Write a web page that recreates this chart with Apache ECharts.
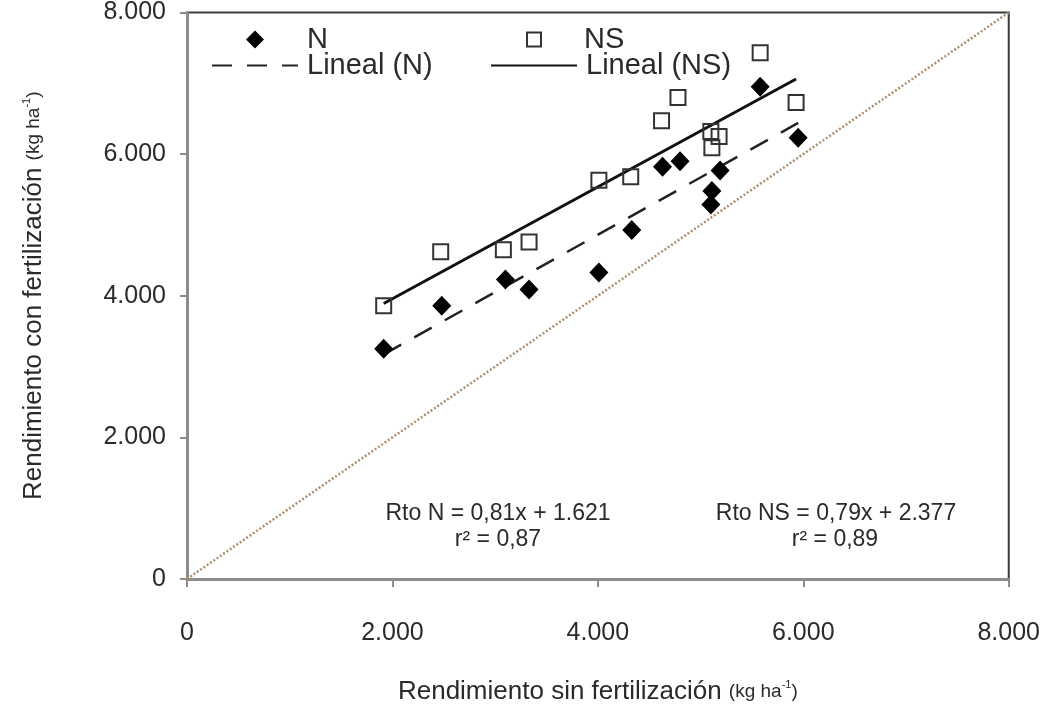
<!DOCTYPE html>
<html>
<head>
<meta charset="utf-8">
<script src="https://cdn.jsdelivr.net/npm/echarts@6/dist/echarts.min.js"></script>
<style>
html,body{margin:0;padding:0;background:#fff;}
#chart{width:1043px;height:711px;}
</style>
</head>
<body>
<div id="chart"></div>
<script>
// ---- data (kg/ha) ----
const nameN = 'N';
const nameNS = 'NS';
const nameFitN = 'Lineal (N)';
const nameFitNS = 'Lineal (NS)';
// without fertilization (x), with N fertilization (y)
const xN = [1915, 2480, 3100, 3330, 4010, 4330, 4630, 4800, 5100, 5110, 5190, 5580, 5950];
const yN = [3250, 3860, 4230, 4090, 4330, 4930, 5820, 5900, 5290, 5480, 5770, 6950, 6230];
// without fertilization (x), with NS fertilization (y)
const xNS = [1915, 2470, 3080, 3330, 4010, 4320, 4620, 4780, 5100, 5110, 5180, 5580, 5930];
const yNS = [3860, 4620, 4650, 4760, 5630, 5680, 6470, 6800, 6320, 6090, 6250, 7430, 6730];
// regression coefficients [slope, intercept] as printed on the chart
const fitN = [0.81, 1621];
const fitNS = [0.79, 2377];
const eqN = ['Rto N = 0,81x + 1.621', 'r² = 0,87'];
const eqNS = ['Rto NS = 0,79x + 2.377', 'r² = 0,89'];
// 1:1 reference line
const identityLine = [[0, 0], [8000, 8000]];
const axisMin = 0, axisMax = 8000, axisStep = 2000;

// ---- helpers ----
function pairs(xs, ys) { return xs.map((x, i) => [x, ys[i]]); }
function fitLine(xs, coef) {
  const lo = Math.min.apply(null, xs), hi = Math.max.apply(null, xs);
  return [[lo, coef[0] * lo + coef[1]], [hi, coef[0] * hi + coef[1]]];
}
function fmt(v) { return String(v).replace(/\B(?=(\d{3})+(?!\d))/g, '.'); }

const FONT = 'Liberation Sans, Arial, sans-serif';
const TXT = '#2a2a2a';

const chart = echarts.init(document.getElementById('chart'), null, { renderer: 'canvas' });

function legendText(padLeft) {
  return { fontFamily: FONT, fontSize: 29, color: TXT, padding: [0, 0, 0, padLeft], lineHeight: 26 };
}
function symbolLegend(name, left, top, size, padLeft) {
  return {
    data: [name], left: left, top: top, orient: 'horizontal', padding: 0,
    itemWidth: size, itemHeight: size, selectedMode: false,
    textStyle: legendText(padLeft)
  };
}
function lineLegend(name, left, top) {
  return {
    data: [name], left: left, top: top, orient: 'horizontal', padding: 0,
    itemWidth: 86, itemHeight: 18, selectedMode: false,
    itemStyle: { color: 'rgba(0,0,0,0)', borderColor: 'rgba(0,0,0,0)', borderWidth: 0, opacity: 0 },
    textStyle: legendText(4)
  };
}

const axisNameRich = {
  a: { fontFamily: FONT, fontSize: 26, color: TXT },
  b: { fontFamily: FONT, fontSize: 19, color: TXT },
  c: { fontFamily: FONT, fontSize: 11, color: TXT, verticalAlign: 'top', padding: [0, 0, 8, 0] }
};

function eqText(cx, cy, text) {
  return {
    type: 'text', x: cx, y: cy, silent: true,
    style: { text: text, fontFamily: FONT, fontSize: 23, fill: TXT, textAlign: 'center', textVerticalAlign: 'middle' }
  };
}

const option = {
  backgroundColor: '#fff',
  animation: false,
  grid: { left: 187, right: 32, top: 12, bottom: 132, show: true, borderColor: '#3a3a3a', borderWidth: 2 },
  legend: [
    symbolLegend(nameN, 246, 25, 18, 38),
    lineLegend(nameFitN, 211, 51),
    symbolLegend(nameNS, 526, 25, 14, 38),
    lineLegend(nameFitNS, 490, 51)
  ],
  xAxis: {
    type: 'value', min: axisMin, max: axisMax, interval: axisStep,
    splitLine: { show: false },
    axisLine: { lineStyle: { color: '#8c8c8c', width: 3 } },
    axisTick: { inside: false, length: 8, lineStyle: { color: '#8c8c8c', width: 2 } },
    axisLabel: { margin: 42, fontFamily: FONT, fontSize: 25, color: TXT, formatter: fmt },
    name: '{a|Rendimiento sin fertilización }{b|(kg ha}{c|-1}{b|)}',
    nameLocation: 'middle', nameGap: 100,
    nameTextStyle: { rich: axisNameRich }
  },
  yAxis: {
    type: 'value', min: axisMin, max: axisMax, interval: axisStep,
    splitLine: { show: false },
    axisLine: { lineStyle: { color: '#8c8c8c', width: 3 } },
    axisTick: { inside: false, length: 7, lineStyle: { color: '#8c8c8c', width: 2 } },
    axisLabel: { margin: 21, fontFamily: FONT, fontSize: 25, color: TXT, formatter: fmt },
    name: '{a|Rendimiento con fertilización }{b|(kg ha}{c|-1}{b|)}',
    nameLocation: 'middle', nameGap: 140,
    nameTextStyle: { rich: axisNameRich }
  },
  series: [
    {
      name: '1:1', type: 'line', data: identityLine, symbol: 'none', silent: true, z: 1,
      lineStyle: { color: '#b08e6c', width: 2.5, type: [2, 2] }
    },
    {
      name: nameFitN, type: 'line', data: fitLine(xN, fitN), symbol: 'none', z: 2,
      lineStyle: { color: '#222', width: 2.5, type: [20, 15] },
      itemStyle: { color: '#222' }
    },
    {
      name: nameFitNS, type: 'line', data: fitLine(xNS, fitNS), symbol: 'none', z: 2,
      lineStyle: { color: '#111', width: 3, type: 'solid' },
      itemStyle: { color: '#111' }
    },
    {
      name: nameN, type: 'scatter', data: pairs(xN, yN), symbol: 'diamond', symbolSize: [19, 20], z: 4,
      itemStyle: { color: '#000', opacity: 1 }
    },
    {
      name: nameNS, type: 'scatter', data: pairs(xNS, yNS), symbol: 'rect', symbolSize: 15, z: 3,
      itemStyle: { color: 'rgba(255,255,255,0)', borderColor: '#333', borderWidth: 2, opacity: 1 }
    }
  ],
  graphic: [
    eqText(498, 514, eqN[0]),
    eqText(498, 540, eqN[1]),
    eqText(836, 514, eqNS[0]),
    eqText(835, 540, eqNS[1])
  ]
};
chart.setOption(option);
</script>
</body>
</html>
